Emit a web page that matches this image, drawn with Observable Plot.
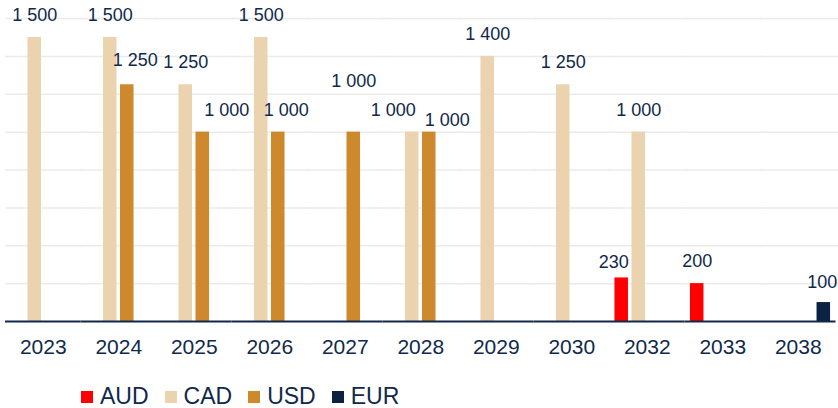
<!DOCTYPE html>
<html>
<head>
<meta charset="utf-8">
<script src="https://cdn.jsdelivr.net/npm/d3@7"></script>
<script src="https://cdn.jsdelivr.net/npm/@observablehq/plot@0.6"></script>
<style>
  html, body { margin: 0; padding: 0; background: #fff; }
  #wrap { position: relative; width: 838px; height: 408px; font-family: "Liberation Sans", Arial, sans-serif; }
  #legend { position: absolute; left: 81px; top: 385px; display: flex; align-items: center; font-size: 23px; line-height: 23px; color: #10294a; }
  #legend .item { display: flex; align-items: center; margin-right: 16px; }
  #legend .sw { width: 12px; height: 12px; margin-right: 7px; }
</style>
</head>
<body>
<div id="wrap"><div id="chart"></div><div id="legend"></div></div>
<script>
const years = ["2023","2024","2025","2026","2027","2028","2029","2030","2032","2033","2038"];
const series = ["AUD","CAD","USD","EUR"];
const colors = ["#ff0000","#ebd3af","#cd892c","#0b2341"];
const audValues = [null,null,null,null,null,null,null,null,230,200,null];
const cadValues = [1500,1500,1250,1500,null,1000,1400,1250,1000,null,null];
const usdValues = [null,1250,1000,1000,1000,1000,null,null,null,null,null];
const eurValues = [null,null,null,null,null,null,null,null,null,null,100];
const gridTicks = [200,400,600,800,1000,1200,1400,1600];

const valuesBySeries = {AUD: audValues, CAD: cadValues, USD: usdValues, EUR: eurValues};
const data = [];
series.forEach(s => valuesBySeries[s].forEach((v, i) => {
  if (v != null) data.push({year: years[i], series: s, value: v});
}));

const fmt = d3.formatLocale({thousands: " ", grouping: [3], decimal: ","}).format(",");

// label nudges mimicking the original's label placement (dx, gap above bar top)
const nudge = {
  "2024|USD": [8, 18.5],
  "2025|USD": [24, 16],
  "2026|USD": [8, 16],
  "2027|USD": [0, 45.5],
  "2028|CAD": [-19, 16],
  "2028|USD": [18, 6],
  "2032|AUD": [-8, 10],
  "2038|EUR": [-1.5, 15]
};
const textColor = "#10294a";

const labelMarks = data.map(d => {
  const [dx, gap] = nudge[d.year + "|" + d.series] || [0, 16.3];
  return Plot.text([d], {
    fx: "year", x: "series", y: "value",
    text: r => fmt(r.value),
    dx, dy: -gap, lineAnchor: "bottom",
    fill: textColor, fontSize: 18, fontFamily: "Liberation Sans, Arial, sans-serif"
  });
});

const chart = Plot.plot({
  width: 838,
  height: 372,
  marginLeft: 5,
  marginRight: 2.5,
  marginTop: 18,
  marginBottom: 51,
  style: {fontFamily: "Liberation Sans, Arial, sans-serif", background: "#fff"},
  fx: {domain: years, padding: 0, round: false},
  x: {domain: series, paddingInner: 0.206, paddingOuter: 0.32, round: false, axis: null},
  y: {domain: [0, 1600], axis: null},
  color: {domain: series, range: colors},
  marks: [
    Plot.ruleY(gridTicks, {stroke: "#ebebeb", strokeWidth: 1.5, insetRight: -2.5}),
    Plot.barY(data, {fx: "year", x: "series", y: "value", fill: "series"}),
    Plot.ruleY([0], {stroke: "#10294a", strokeWidth: 2}),
    ...labelMarks,
    Plot.axisFx({anchor: "bottom", tickSize: 0, tickPadding: 18, fontSize: 21, label: null, fill: textColor})
  ]
});
document.getElementById("chart").appendChild(chart);

const legend = document.getElementById("legend");
series.forEach((s, i) => {
  const item = document.createElement("div");
  item.className = "item";
  const sw = document.createElement("span");
  sw.className = "sw";
  sw.style.background = colors[i];
  const t = document.createElement("span");
  t.textContent = s;
  item.appendChild(sw); item.appendChild(t);
  legend.appendChild(item);
});
</script>
</body>
</html>
